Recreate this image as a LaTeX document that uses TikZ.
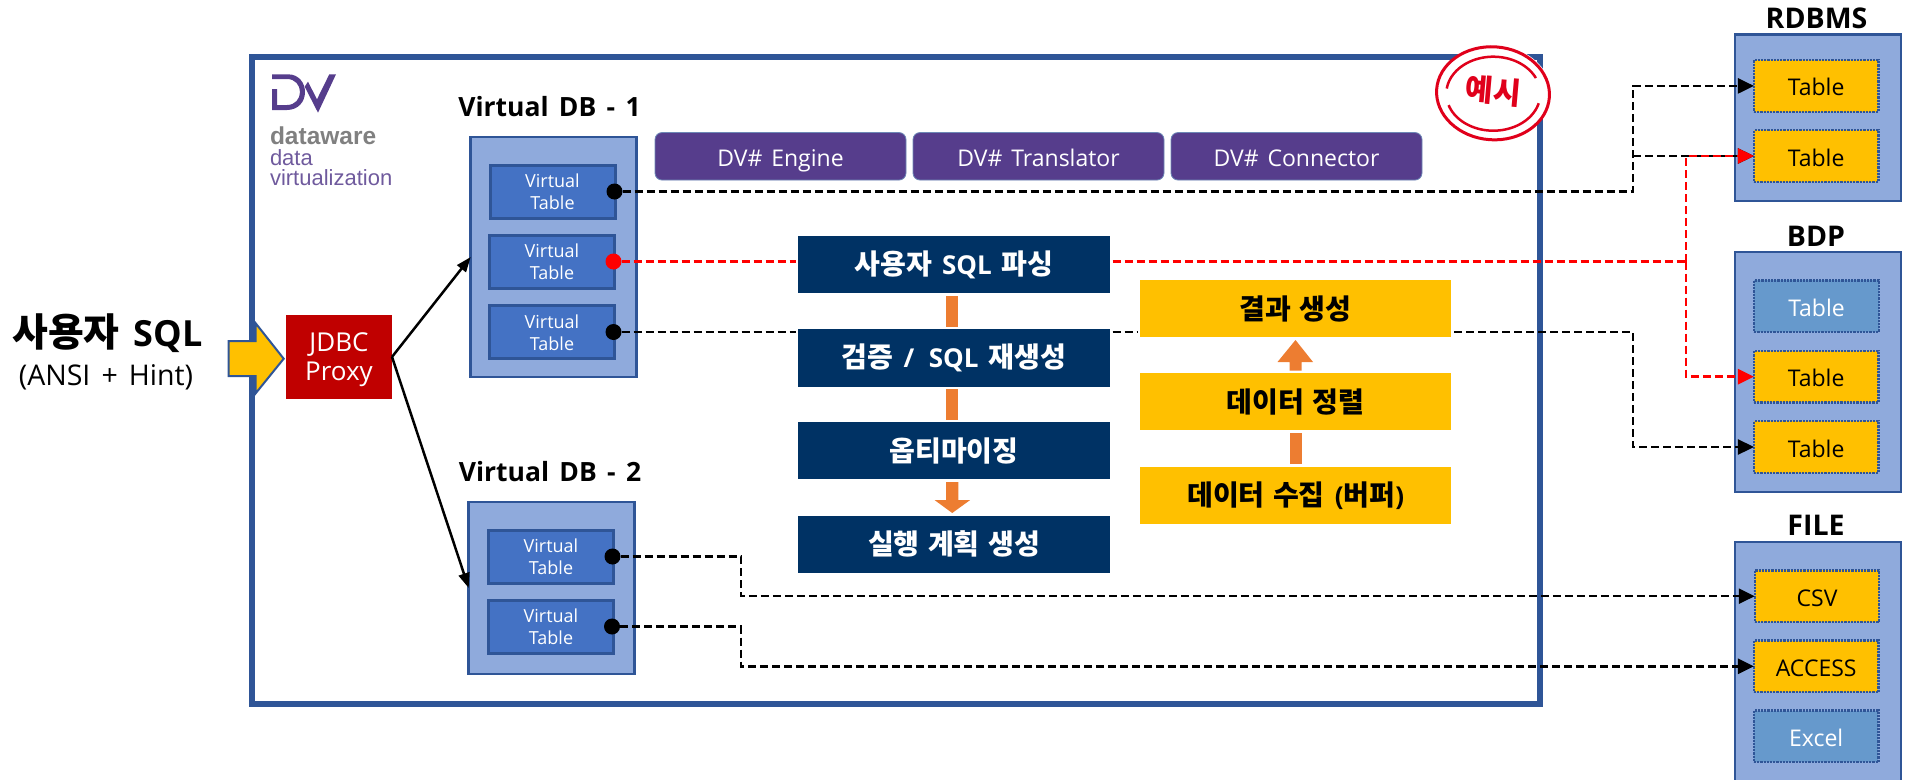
\documentclass[tikz,border=0pt]{standalone}
\usepackage{fontspec}
\setmainfont[WordSpace=1.5]{Open Sans}
\newfontfamily\kr[WordSpace=1.3,Scale=1.08]{Noto Sans CJK KR}
\newfontfamily\logofont{Liberation Sans}
\usetikzlibrary{arrows.meta,calc}
\definecolor{framec}{HTML}{2F5597}
\definecolor{panelc}{HTML}{8FAADC}
\definecolor{vtc}{HTML}{4472C4}
\definecolor{purp}{HTML}{563D8C}
\definecolor{navy}{HTML}{003264}
\definecolor{orng}{HTML}{ED7D31}
\definecolor{ylw}{HTML}{FFC000}
\definecolor{tblue}{HTML}{6699CC}
\definecolor{jred}{HTML}{C00000}
\definecolor{stampc}{HTML}{E0001B}
\definecolor{logog}{HTML}{808080}
\tikzset{
  x=1pt,y=-1pt,
  every node/.style={inner sep=0pt,outer sep=0pt,align=center},
  panel/.style={rectangle,draw=framec,fill=panelc,line width=2.5pt,minimum width=166pt},
  vtab/.style={rectangle,draw=framec,fill=vtc,line width=3pt,minimum width=125pt,minimum height=53pt,text=white,font=\fontsize{18}{22}\selectfont},
  dbtab/.style={rectangle,draw=framec,densely dotted,line width=2.2pt,minimum width=124.5pt,minimum height=51.5pt,text height=20pt,text depth=0pt,font=\fontsize{23}{26}\selectfont},
  ytab/.style={dbtab,fill=ylw,text=black},
  btab/.style={dbtab,fill=tblue,text=white},
  btn/.style={rectangle,rounded corners=7pt,fill=purp,draw=framec!70!white,line width=0.8pt,minimum width=251pt,minimum height=47.5pt,text height=22pt,text depth=2pt,text=white,font=\fontsize{23}{26}\selectfont},
  stepn/.style={rectangle,fill=navy,minimum width=312pt,minimum height=57.3pt,text=white,font=\fontsize{26}{30}\selectfont\bfseries},
  stepy/.style={rectangle,fill=ylw,minimum width=311.5pt,minimum height=57pt,text=black,font=\fontsize{26}{30}\selectfont\bfseries},
  ttl/.style={font=\fontsize{26.5}{30}\selectfont\bfseries,text=black},
  ttlb/.style={font=\fontsize{28.5}{32}\selectfont\bfseries,text=black},
  dot/.style={circle,minimum size=16pt},
  dsh/.style={line width=2.5pt,dash pattern=on 8pt off 4pt},
  tip/.style={-{Triangle[length=16pt,width=15pt]}},
  conn/.style={line width=2.5pt,-{Triangle[length=15pt,width=11pt]}},
  barf/.style={fill=orng,draw=none}
}
\begin{document}
\begin{tikzpicture}
\useasboundingbox (0,0) rectangle (1908,779);
% frame
\node[rectangle,draw=framec,line width=6pt,minimum width=1288.5pt,minimum height=647pt] (frame) at (895.75,380) {};
% logo
\fill[purp] (272,74.3) -- (288,74.3) .. controls (299,74.3) and (305,83) .. (305,92) .. controls (305,102) and (298,110) .. (287,110) -- (272,110) -- (272,89) -- (277,89) -- (277,105) -- (287,105) .. controls (295,105) and (300,99) .. (300,92) .. controls (300,85) and (295,79) .. (287,79) -- (272,79) -- cycle;
\fill[purp] (336,74.3) -- (318,112.7) -- (304.7,86.7) -- (308,81.7) -- (317,99.3) -- (329.3,74.3) -- cycle;
\node[anchor=west,text=logog,font=\logofont\fontsize{24.5}{26}\selectfont\bfseries] (lg1) at (270,135.5) {dataware};
\node[anchor=west,text=purp!85!white,font=\logofont\fontsize{22}{26}\selectfont] (lg2) at (270,158) {data};
\node[anchor=west,text=purp!85!white,font=\logofont\fontsize{22}{26}\selectfont] (lg3) at (270,178) {virtualization};
% titles
\node[ttl] (tv1) at (549.5,107) {Virtual DB - 1};
\node[ttl] (tv2) at (550,472) {Virtual DB - 2};
\node[ttlb] (tr) at (1816.5,18.5) {RDBMS};
\node[ttlb] (tb) at (1816,236) {BDP};
\node[ttlb] (tf) at (1816,525) {FILE};
% virtual DB panels
\node[panel,minimum height=240pt] (vdb1) at (553.7,257) {};
\node[vtab] (v1) at (552.5,191.8) {Virtual\\Table};
\node[vtab] (v2) at (552,262) {Virtual\\Table};
\node[vtab] (v3) at (552,332.4) {Virtual\\Table};
\node[panel,minimum height=172pt] (vdb2) at (551.7,588) {};
\node[vtab] (v4) at (551,556.5) {Virtual\\Table};
\node[vtab] (v5) at (551,626.5) {Virtual\\Table};
% buttons
\node[btn] (b1) at (780.5,156.3) {DV\# Engine};
\node[btn] (b2) at (1038.5,156.3) {DV\# Translator};
\node[btn] (b3) at (1296.5,156.3) {DV\# Connector};
% process boxes
\node[stepn] (n1) at (954,264.6) {{\kr 사용자} SQL {\kr 파싱}};
\node[stepn] (n2) at (954,358) {{\kr 검증} / \,SQL {\kr 재생성}};
\node[stepn] (n3) at (954,450.6) {\kr 옵티마이징};
\node[stepn] (n4) at (954,544.3) {\kr 실행 계획 생성};
\node[stepy] (y1) at (1295.7,308.8) {\kr 결과 생성};
\node[stepy] (y2) at (1295.7,401.8) {\kr 데이터 정렬};
\node[stepy] (y3) at (1295.7,495.5) {{\kr 데이터 수집} ({\kr 버퍼})};
% orange connectors
\fill[barf] (946,296) rectangle (958.4,327);
\fill[barf] (946,389) rectangle (958.4,419.7);
\fill[barf] (946,482) -- (958.4,482) -- (958.4,500) -- (970.2,500) -- (952.2,513) -- (934.5,500) -- (946,500) -- cycle;
\fill[barf] (1289.5,370.7) -- (1301.5,370.7) -- (1301.5,362) -- (1313,362) -- (1295.5,340) -- (1277.5,362) -- (1289.5,362) -- cycle;
\fill[barf] (1289.5,433.3) rectangle (1301.5,464.3);
% data source panels
\node[panel,minimum height=166.5pt] (p1) at (1818,117.8) {};
\node[ytab] (t1) at (1816.2,85.9) {Table};
\node[ytab] (t2) at (1816.2,156) {Table};
\node[panel,minimum height=239.7pt] (p2) at (1818,371.9) {};
\node[btab] (t3) at (1816.5,306.2) {Table};
\node[ytab] (t4) at (1816.2,376.7) {Table};
\node[ytab] (t5) at (1816.2,447) {Table};
\begin{scope}
\clip (0,0) rectangle (1908,779);
\node[panel,minimum height=270pt] (p3) at (1818,677) {};
\end{scope}
\node[ytab] (t6) at (1817,596.2) {CSV};
\node[ytab] (t7) at (1816.2,666.3) {ACCESS};
\node[btab] (t8) at (1816.2,736.3) {Excel};
% dots
\node[dot,fill=black] (d1) at (614.5,191.5) {};
\node[dot,fill=red] (d2) at (613.5,261.5) {};
\node[dot,fill=black] (d3) at (613.5,332) {};
\node[dot,fill=black] (d4) at (612.5,556.5) {};
\node[dot,fill=black] (d5) at (612,626.5) {};
% elbow points
\coordinate (e1) at (1633,191.5);
\coordinate (e2) at (1633,332);
\coordinate (e4) at (741,556.5);
\coordinate (e5) at (741,626.5);
\coordinate (r1) at (1686,261.5);
% dashed black connectors
\draw[dsh,tip] (d1.east) -- (e1) -- (e1 |- t1.west) -- (t1.west);
\draw[dsh,tip] (e1 |- t2.west) -- (t2.west);
\draw[dsh,shorten >=2.5pt] (d3.east) -- (n2.west |- d3);
\draw[dsh,shorten <=2.5pt,shorten >=2.5pt] (n2.east |- d3) -- (y1.west |- d3);
\draw[dsh,tip,shorten <=3pt] (y1.east |- d3) -- (e2) -- (e2 |- t5.west) -- (t5.west);
\draw[dsh,tip] (d4.east) -- (e4) -- (e4 |- t6.west) -- (t6.west);
\draw[dsh,tip] (d5.east) -- (e5) -- (e5 |- t7.west) -- (t7.west);
% dashed red connectors
\draw[dsh,red,shorten >=2.5pt] (d2.east) -- (n1.west |- d2);
\draw[dsh,red,shorten <=2.5pt] (n1.east |- d2) -- (r1);
\draw[dsh,red,tip] (r1) -- (r1 |- t2.west) -- (t2.west);
\draw[dsh,red,tip] (r1) -- (r1 |- t4.west) -- (t4.west);
% JDBC
\node[rectangle,fill=jred,minimum width=106pt,minimum height=83.7pt,text=white,font=\fontsize{26}{29}\selectfont] (jdbc) at (339,356.9) {\rule{0pt}{4pt}\\[-9pt]JDBC\\Proxy};
\draw[conn] (jdbc.east) -- (vdb1.west);
\draw[conn] (jdbc.east) -- (vdb2.west);
% input arrow
\draw[draw=framec,fill=ylw,line width=2pt,line join=miter] (228.7,341) -- (255.7,341) -- (255.7,323.3) -- (283.7,358.7) -- (255.7,393.3) -- (255.7,376) -- (228.7,376) -- cycle;
\node (sql) at (107.5,333) {\fontsize{36}{40}\selectfont\bfseries{\kr 사용자} SQL};
\node (ansi) at (106,377) {\fontsize{28.5}{31}\selectfont (ANSI + Hint)};
% stamp
\fill[white] (1493,93.3) ellipse [x radius=58,y radius=48];
\draw[stampc,line width=3pt,rotate around={-4:(1493,93.3)}] (1493,93.3) ellipse [x radius=56.5,y radius=46.5];
\draw[stampc,line width=2.5pt] plot[domain=25:172,samples=40] ({1493.3+47*cos(\x)},{93.7-37*sin(\x)});
\draw[stampc,line width=2.5pt] plot[domain=198:345,samples=40] ({1493.3+47*cos(\x)},{93.7-37*sin(\x)});
\node[rotate=-5,text=stampc,font=\kr\fontsize{28}{32}\selectfont\bfseries] (stamp) at (1493,91) {예시};
\end{tikzpicture}
\end{document}
